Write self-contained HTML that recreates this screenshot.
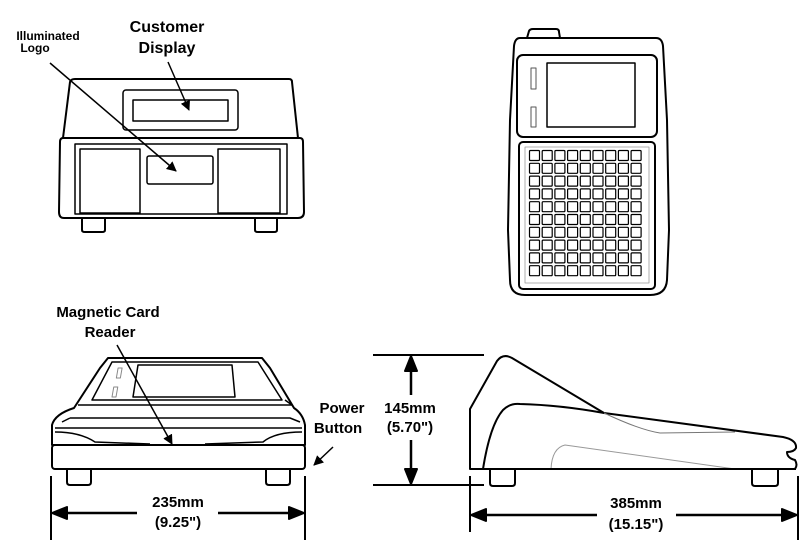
<!DOCTYPE html>
<html><head><meta charset="utf-8"><style>
html,body{margin:0;padding:0;background:#fff;}
svg{display:block}
text{font-family:"Liberation Sans",Arial,sans-serif;font-weight:bold;fill:#000}
</style></head><body>
<svg width="800" height="544" viewBox="0 0 800 544" xmlns="http://www.w3.org/2000/svg">
<defs>
<marker id="ah" markerWidth="10" markerHeight="10" refX="9" refY="5" orient="auto" markerUnits="userSpaceOnUse">
<path d="M0,0 L10,5 L0,10 Z" fill="#000"/></marker>
<marker id="ah2" markerWidth="14" markerHeight="12" refX="13" refY="6" orient="auto" markerUnits="userSpaceOnUse">
<path d="M0,0 L14,6 L0,12 Z" fill="#000"/></marker>
</defs>
<g fill="none" stroke="#000" stroke-width="2" stroke-linejoin="round">
<!-- top-left front view -->
<path d="M75,79 L289,79 Q292,79 292,82 L298,138 L63,138 L70,82 Q71,79 75,79 Z"/>
<path d="M63,138 L300,138 Q303,138 303,142 L304,212 Q304,218 298,218 L64,218 Q59,218 59,212 L60,142 Q60,138 63,138 Z"/>
<rect x="75" y="144" width="212" height="70" stroke-width="1.5"/>
<rect x="80" y="149" width="60" height="64" stroke-width="1.5"/>
<rect x="218" y="149" width="62" height="64" stroke-width="1.5"/>
<rect x="147" y="156" width="66" height="28" rx="2" stroke-width="1.5"/>
<rect x="123" y="90" width="115" height="40" rx="3" stroke-width="1.5"/>
<rect x="133" y="100" width="95" height="21" stroke-width="1.5"/>
<path d="M82,218 L82,230 Q82,232 85,232 L102,232 Q105,232 105,230 L105,218"/>
<path d="M255,218 L255,230 Q255,232 258,232 L274,232 Q277,232 277,230 L277,218"/>
<line x1="50" y1="63" x2="176" y2="171" stroke-width="1.5" marker-end="url(#ah)"/>
<line x1="168" y1="62" x2="189" y2="110" stroke-width="1.5" marker-end="url(#ah)"/>

<!-- top-right top view -->
<path d="M527,38 L529,31 Q530,29 533,29 L556,29 Q559,29 559,32 L560,38"/>
<path d="M520,38 L656,38 Q662,38 663,46 L667,120 L669,230 L667,280 Q666,295 650,295 L525,295 Q510,295 510,280 L508,230 L510,120 L514,46 Q515,38 520,38 Z"/>
<rect x="517" y="55" width="140" height="82" rx="6"/>
<rect x="547" y="63" width="88" height="64" stroke-width="1.5"/>
<rect x="531" y="68" width="5" height="21" stroke-width="1" stroke="#555"/>
<rect x="531" y="107" width="5" height="20" stroke-width="1" stroke="#555"/>
<rect x="519" y="142" width="136" height="147" rx="4"/>
<rect x="525" y="147" width="124" height="136" stroke="#999" stroke-width="0.8"/>
</g>
<g fill="none" stroke="#000" stroke-width="1.2" id="keys">
</g>
<g fill="none" stroke="#000" stroke-width="2" stroke-linejoin="round">
<!-- bottom-left front view -->
<path d="M108,358 L262,358 L270,368 L294,408 Q303,414 305,425 L305,445 L52,445 L52,425 Q55,414 74,408 L100,368 Z"/>
<path d="M112,362 L258,362 L282,400 L92,400 Z" stroke-width="1.5"/>
<path d="M138,365 L232,365 L235,397 L133,397 Z" stroke-width="1.5"/>
<rect x="117" y="368" width="4" height="10" stroke="#888" stroke-width="1" transform="skewX(-10) translate(66,0)"/>
<rect x="113" y="387" width="4" height="10" stroke="#888" stroke-width="1" transform="skewX(-10) translate(69,0)"/>
<path d="M78,405 L292,405 L285,400 M70,418 L290,418 L300,422 M70,418 L62,422" stroke-width="1.5"/>
<path d="M55,428 L302,428" stroke-width="1.5"/>
<path d="M55,432 Q80,432 95,442 L150,444 M302,432 Q275,432 263,442 L205,444" stroke-width="1.5"/>
<rect x="52" y="445" width="253" height="24" rx="3"/>
<path d="M67,469 L67,482 Q67,485 70,485 L88,485 Q91,485 91,482 L91,469"/>
<path d="M266,469 L266,482 Q266,485 269,485 L287,485 Q290,485 290,482 L290,469"/>
<line x1="51" y1="476" x2="51" y2="540"/>
<line x1="305" y1="476" x2="305" y2="540"/>
<line x1="62" y1="513" x2="137" y2="513" stroke-width="2.5"/>
<line x1="218" y1="513" x2="295" y2="513" stroke-width="2.5"/>
<path d="M52,513 L67,507 L67,519 Z M304,513 L289,507 L289,519 Z" fill="#000"/>
<line x1="117" y1="345" x2="172" y2="444" stroke-width="1.5" marker-end="url(#ah)"/>
<line x1="333" y1="447" x2="314" y2="465" stroke-width="1.5" marker-end="url(#ah)"/>

<!-- side view -->
<line x1="373" y1="355" x2="484" y2="355"/>
<line x1="373" y1="485" x2="484" y2="485"/>
<line x1="411" y1="358" x2="411" y2="395" stroke-width="2.5"/>
<line x1="411" y1="440" x2="411" y2="482" stroke-width="2.5"/>
<path d="M411,356 L405,371 L417,371 Z M411,484 L405,469 L417,469 Z" fill="#000"/>
<path d="M470,469 L470,409 L497,361 Q503,353 512,358 L604,413 L783,437 Q797,440 796,448 Q794,452 787,452 Q787,458 795,460 Q798,465 795,469 Z"/>
<path d="M483,469 Q490,425 503,410 Q510,403 520,404 Q560,405 604,413"/>
<path d="M604,413 Q640,430 660,433 L735,432" stroke="#777" stroke-width="1"/>
<path d="M551,469 Q552,448 565,445 L735,469" stroke="#999" stroke-width="1"/>
<line x1="470" y1="469" x2="796" y2="469"/>
<path d="M490,469 L490,483 Q490,486 493,486 L512,486 Q515,486 515,483 L515,469"/>
<path d="M752,469 L752,483 Q752,486 755,486 L775,486 Q778,486 778,483 L778,469"/>
<line x1="470" y1="476" x2="470" y2="532"/>
<line x1="798" y1="476" x2="798" y2="540"/>
<line x1="482" y1="515" x2="597" y2="515" stroke-width="2.5"/>
<line x1="676" y1="515" x2="787" y2="515" stroke-width="2.5"/>
<path d="M471,515 L486,509 L486,521 Z M797,515 L782,509 L782,521 Z" fill="#000"/>
</g>
<text x="48" y="40" font-size="12" text-anchor="middle">Illuminated</text>
<text x="35" y="52" font-size="12" text-anchor="middle">Logo</text>
<text x="167" y="32" font-size="16" text-anchor="middle">Customer</text>
<text x="167" y="53" font-size="16" text-anchor="middle">Display</text>
<text x="108" y="317" font-size="15" text-anchor="middle">Magnetic Card</text>
<text x="110" y="337" font-size="15" text-anchor="middle">Reader</text>
<text x="342" y="413" font-size="15" text-anchor="middle">Power</text>
<text x="338" y="433" font-size="15" text-anchor="middle">Button</text>
<text x="178" y="507" font-size="15" text-anchor="middle">235mm</text>
<text x="178" y="527" font-size="15" text-anchor="middle">(9.25")</text>
<text x="410" y="413" font-size="15" text-anchor="middle">145mm</text>
<text x="410" y="432" font-size="15" text-anchor="middle">(5.70")</text>
<text x="636" y="508" font-size="15" text-anchor="middle">385mm</text>
<text x="636" y="529" font-size="15" text-anchor="middle">(15.15")</text>
<g fill="none" stroke="#000" stroke-width="1.2">
<g id="row">
<rect x="529.5" y="150.5" width="10" height="10" rx="1"/><rect x="542.2" y="150.5" width="10" height="10" rx="1"/><rect x="554.9" y="150.5" width="10" height="10" rx="1"/><rect x="567.6" y="150.5" width="10" height="10" rx="1"/><rect x="580.3" y="150.5" width="10" height="10" rx="1"/><rect x="593" y="150.5" width="10" height="10" rx="1"/><rect x="605.7" y="150.5" width="10" height="10" rx="1"/><rect x="618.4" y="150.5" width="10" height="10" rx="1"/><rect x="631.1" y="150.5" width="10" height="10" rx="1"/>
</g>
<use href="#row" y="12.8"/><use href="#row" y="25.6"/><use href="#row" y="38.4"/><use href="#row" y="51.2"/><use href="#row" y="64"/><use href="#row" y="76.8"/><use href="#row" y="89.6"/><use href="#row" y="102.4"/><use href="#row" y="115.2"/>
</g>
</svg>
</body></html>
